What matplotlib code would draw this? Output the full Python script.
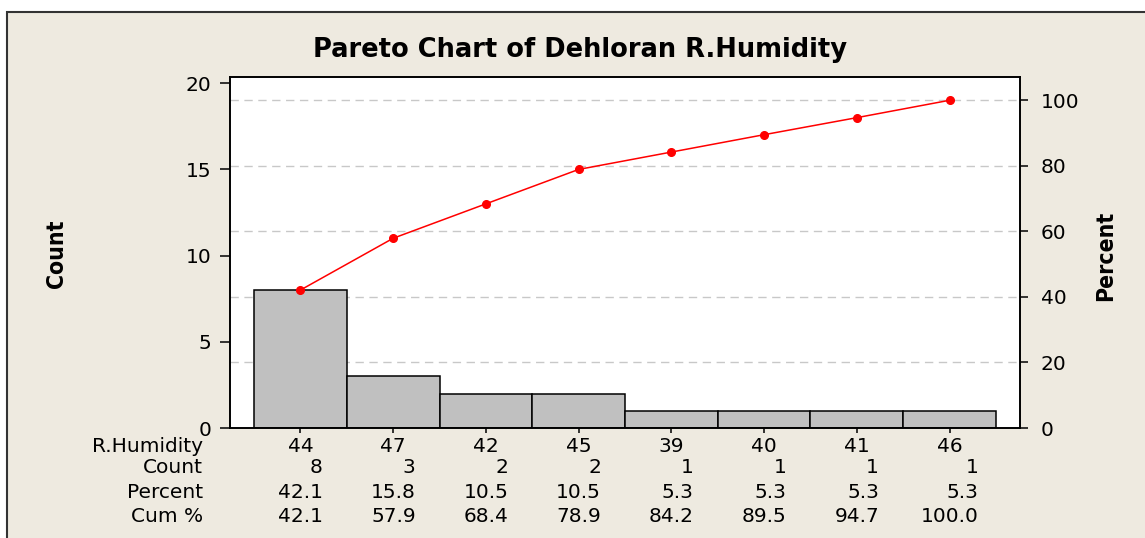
import matplotlib
matplotlib.use("Agg")
import matplotlib.pyplot as plt
from matplotlib.patches import Rectangle
from matplotlib.transforms import blended_transform_factory

# data
categories = ['44', '47', '42', '45', '39', '40', '41', '46']
counts = [8, 3, 2, 2, 1, 1, 1, 1]
percent = [42.1, 15.8, 10.5, 10.5, 5.3, 5.3, 5.3, 5.3]
cum_pct = [42.1, 57.9, 68.4, 78.9, 84.2, 89.5, 94.7, 100.0]
pct_ticks = [0, 20, 40, 60, 80, 100]
count_ticks = [0, 5, 10, 15, 20]

W, H = 1145, 538
BEIGE = '#EEEAE0'
FS = 14.5
plt.rcParams['font.family'] = ['DejaVu Sans']

fig = plt.figure(figsize=(W / 100, H / 100), dpi=100)
fig.patch.set_facecolor('white')

# beige frame (cropped on the right and bottom)
fig.patches.append(Rectangle((7 / W, -0.05), 1.1, 1 - 12 / H + 0.05,
                             transform=fig.transFigure, facecolor=BEIGE,
                             edgecolor='#333333', linewidth=1.5, zorder=-10))

ax1 = fig.add_axes([230 / W, 1 - 428 / H, 790 / W, 351 / H])
ax1.set_facecolor('white')
total = sum(counts)
ytop = 20.35
x = list(range(len(categories)))

# dashed grid at the percent ticks (behind the bars)
for p in pct_ticks[1:]:
    ax1.axhline(p * total / 100, color='#C8C8C8', lw=1.0, ls=(0, (6, 4)), zorder=0)

ax1.bar(x, counts, width=1.0, color='#C0C0C0', edgecolor='black', linewidth=1.1, zorder=2)
ax1.set_xlim(-0.76, len(categories) - 1 + 0.76)
ax1.set_ylim(0, ytop)
ax1.set_yticks(count_ticks)
ax1.set_xticks(x)
ax1.set_xticklabels([])
ax1.tick_params(axis='y', direction='out', length=7.5, width=1.1, labelsize=FS, pad=6)
ax1.tick_params(axis='x', direction='out', length=3.8, width=1.1)
for s in ax1.spines.values():
    s.set_linewidth(1.2)

ax2 = ax1.twinx()
ax2.set_ylim(0, ytop / total * 100)
ax2.set_yticks(pct_ticks)
ax2.tick_params(axis='y', direction='out', length=6, width=1.1, labelsize=FS, pad=9)
ax2.plot(x, cum_pct, color='red', lw=1.1, marker='o', markersize=5.5, zorder=3)
for s in ax2.spines.values():
    s.set_linewidth(1.2)

fig.text(580 / W, 1 - 57 / H, 'Pareto Chart of Dehloran R.Humidity', ha='center',
         va='baseline', fontsize=18.5, fontweight='bold')

ylab = dict(family=['DejaVu Sans'], stretch='condensed', fontweight='bold',
            fontsize=16.5, rotation=90, ha='center', va='center')
fig.text(56 / W, 1 - 254 / H, 'Count', **ylab)
fig.text(1106 / W, 1 - 256 / H, 'Percent', **ylab)

# table under the chart
rows = [('R.Humidity', categories),
        ('Count', [str(c) for c in counts]),
        ('Percent', ['%.1f' % p for p in percent]),
        ('Cum %', ['%.1f' % c for c in cum_pct])]
baselines = [452, 473, 498, 522]
tr = blended_transform_factory(ax1.transData, fig.transFigure)
renderer = fig.canvas.get_renderer()
xpix = ax1.transData.transform([(i, 0) for i in x])[:, 0]

for (label, vals), yb in zip(rows, baselines):
    fig.text(203 / W, 1 - yb / H, label, ha='right', va='baseline', fontsize=FS)

for i in x:
    col = [r[1][i] for r in rows[1:]]
    fig.text(i, 1 - baselines[0] / H, categories[i], transform=tr, ha='center',
             va='baseline', fontsize=FS)
    widths = []
    for v in col:
        t = fig.text(0, 0, v, fontsize=FS)
        widths.append(t.get_window_extent(renderer).width)
        t.remove()
    right = xpix[i] + max(widths) / 2
    for v, yb in zip(col, baselines[1:]):
        fig.text(right / W, 1 - yb / H, v, ha='right', va='baseline', fontsize=FS)

fig.savefig('out.png', dpi=100, facecolor=fig.get_facecolor())
